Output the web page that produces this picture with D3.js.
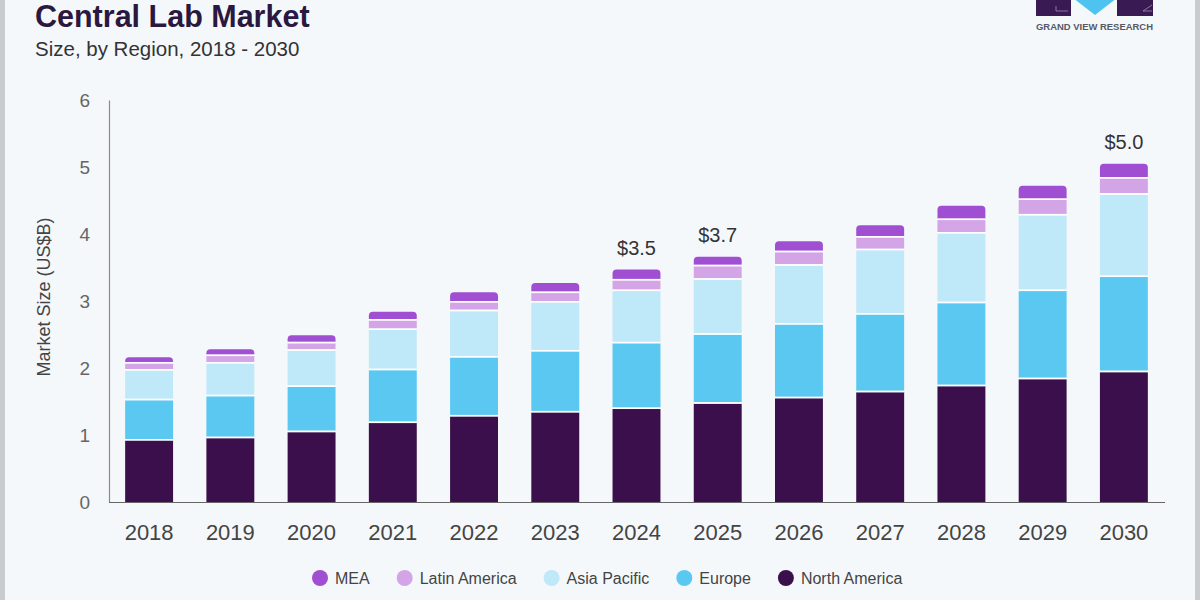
<!DOCTYPE html>
<html>
<head>
<meta charset="utf-8">
<script src="https://cdn.jsdelivr.net/npm/d3@7"></script>
<style>
  html, body { margin: 0; padding: 0; background: #f5f8fb; }
  svg { display: block; font-family: "Liberation Sans", Arial, Helvetica, sans-serif; }
</style>
</head>
<body>
<svg id="chart" width="1200" height="600"></svg>
<script>
// ---- Data ----
const years = ["2018","2019","2020","2021","2022","2023","2024","2025","2026","2027","2028","2029","2030"];
const northAmerica = [0.94, 0.975, 1.065, 1.20, 1.30, 1.36, 1.41, 1.49, 1.57, 1.66, 1.75, 1.855, 1.96];
const europe       = [0.60, 0.625, 0.675, 0.79, 0.88, 0.91, 0.98, 1.03, 1.10, 1.16, 1.24, 1.315, 1.42];
const asiaPacific  = [0.445, 0.49, 0.54, 0.60, 0.69, 0.73, 0.78, 0.82, 0.88, 0.96, 1.04, 1.13, 1.23];
const latinAmerica = [0.105, 0.11, 0.11, 0.14, 0.13, 0.14, 0.16, 0.20, 0.20, 0.19, 0.20, 0.23, 0.24];
const mea          = [0.07, 0.08, 0.10, 0.11, 0.13, 0.13, 0.14, 0.12, 0.14, 0.16, 0.19, 0.19, 0.20];
const seriesNames  = ["North America", "Europe", "Asia Pacific", "Latin America", "MEA"];
const seriesColors = ["#3a0f4b", "#5bc8f2", "#bfe8f8", "#d3a5e7", "#a04fd3"];
const legendOrder  = ["MEA", "Latin America", "Asia Pacific", "Europe", "North America"];
const labelYears   = ["2024", "2025", "2030"];
const labelTexts   = ["$3.5", "$3.7", "$5.0"];
const yTicks       = [0, 1, 2, 3, 4, 5, 6];

const seriesValues = [northAmerica, europe, asiaPacific, latinAmerica, mea];
const table = years.map((y, i) => {
  const row = { year: y };
  seriesNames.forEach((s, k) => row[s] = seriesValues[k][i]);
  return row;
});

const svg = d3.select("#chart");
const W = 1200, H = 600;

// background and side borders
svg.append("rect").attr("width", W).attr("height", H).attr("fill", "#f5f8fb");
svg.append("rect").attr("x", 0).attr("y", 0).attr("width", 5).attr("height", H).attr("fill", "#c9cccf");
svg.append("rect").attr("x", 1195).attr("y", 0).attr("width", 5).attr("height", H).attr("fill", "#c9cccf");

// title
svg.append("text").attr("x", 35).attr("y", 27)
  .attr("font-size", 30.5).attr("font-weight", "bold").attr("fill", "#2a1840")
  .text("Central Lab Market");
svg.append("text").attr("x", 35).attr("y", 56)
  .attr("font-size", 20.5).attr("fill", "#333")
  .text("Size, by Region, 2018 - 2030");

// logo
const logo = svg.append("g");
logo.append("rect").attr("x", 1036).attr("y", -4).attr("width", 35).attr("height", 20).attr("fill", "#3a1a52");
logo.append("path").attr("d", "M1073,-2 L1117,-2 L1095,15 Z").attr("fill", "#4fc3ef");
logo.append("rect").attr("x", 1117).attr("y", -4).attr("width", 36).attr("height", 20).attr("fill", "#3a1a52");
logo.append("path").attr("d", "M1056,11 L1056,6 M1056,11 L1068,11").attr("stroke", "#9b8fb0").attr("stroke-width", 0.8).attr("fill", "none");
logo.append("path").attr("d", "M1143,11 L1152,11 M1143,11 L1152,5").attr("stroke", "#9b8fb0").attr("stroke-width", 0.8).attr("fill", "none");
logo.append("text").attr("x", 1036).attr("y", 30)
  .attr("font-size", 8.5).attr("font-weight", "bold").attr("fill", "#555a66")
  .attr("textLength", 117).attr("lengthAdjust", "spacingAndGlyphs")
  .text("GRAND VIEW RESEARCH");

// scales
const x = d3.scaleBand().domain(years).range([108.5, 1164.5]).paddingInner(0.41).paddingOuter(0.205);
const y = d3.scaleLinear().domain([0, 6]).range([502, 100]);

// stacked bars
const stack = d3.stack().keys(seriesNames);
const layers = stack(table);
const gap = 1.5;
const r = 4;

layers.forEach((layer, k) => {
  const isTop = k === layers.length - 1;
  svg.append("g").selectAll("path").data(layer).join("path")
    .attr("fill", seriesColors[k])
    .attr("d", d => {
      const x0 = x(d.data.year), w = x.bandwidth();
      const yTop = y(d[1]) + (isTop ? 0 : gap);
      const yBot = y(d[0]);
      if (isTop) {
        return `M${x0},${yBot} L${x0},${yTop + r} Q${x0},${yTop} ${x0 + r},${yTop} L${x0 + w - r},${yTop} Q${x0 + w},${yTop} ${x0 + w},${yTop + r} L${x0 + w},${yBot} Z`;
      }
      return `M${x0},${yBot} L${x0},${yTop} L${x0 + w},${yTop} L${x0 + w},${yBot} Z`;
    });
});
// white separator lines between segments
layers.slice(0, layers.length - 1).forEach(layer => {
  svg.append("g").selectAll("rect").data(layer).join("rect")
    .attr("x", d => x(d.data.year))
    .attr("y", d => y(d[1]))
    .attr("width", x.bandwidth())
    .attr("height", gap)
    .attr("fill", "#ffffff");
});

// axes
const yAxis = svg.append("g").attr("transform", "translate(109,0)")
  .call(d3.axisLeft(y).tickValues(yTicks).tickSize(0).tickPadding(19).tickFormat(d3.format("d")));
yAxis.select(".domain").attr("stroke", "#8a8a8a").attr("stroke-width", 1.2);
yAxis.selectAll("text").attr("font-size", 19).attr("fill", "#666").attr("font-family", "Liberation Sans, Arial, sans-serif");

const xAxis = svg.append("g").attr("transform", "translate(0,502)")
  .call(d3.axisBottom(x).tickSize(0).tickPadding(22));
xAxis.select(".domain").attr("stroke", "#666").attr("stroke-width", 1.2);
xAxis.selectAll("text").attr("font-size", 22).attr("fill", "#444").attr("font-family", "Liberation Sans, Arial, sans-serif");

// y axis title
svg.append("text")
  .attr("transform", "translate(50,297) rotate(-90)")
  .attr("text-anchor", "middle")
  .attr("font-size", 18).attr("fill", "#444")
  .text("Market Size (US$B)");

// value labels
const totals = layers[layers.length - 1];
labelYears.forEach((yr, i) => {
  const d = totals.find(t => t.data.year === yr);
  svg.append("text")
    .attr("x", x(yr) + x.bandwidth() / 2)
    .attr("y", y(d[1]) - 15)
    .attr("text-anchor", "middle")
    .attr("font-size", 20).attr("fill", "#333")
    .text(labelTexts[i]);
});

// legend
const legend = svg.append("g");
let lx = 320;
legendOrder.forEach(name => {
  const k = seriesNames.indexOf(name);
  legend.append("circle").attr("cx", lx).attr("cy", 578).attr("r", 8).attr("fill", seriesColors[k]);
  const t = legend.append("text").attr("x", lx + 15).attr("y", 584)
    .attr("font-size", 16).attr("fill", "#444").text(name);
  lx += 15 + t.node().getComputedTextLength() + 35;
});
</script>
</body>
</html>
